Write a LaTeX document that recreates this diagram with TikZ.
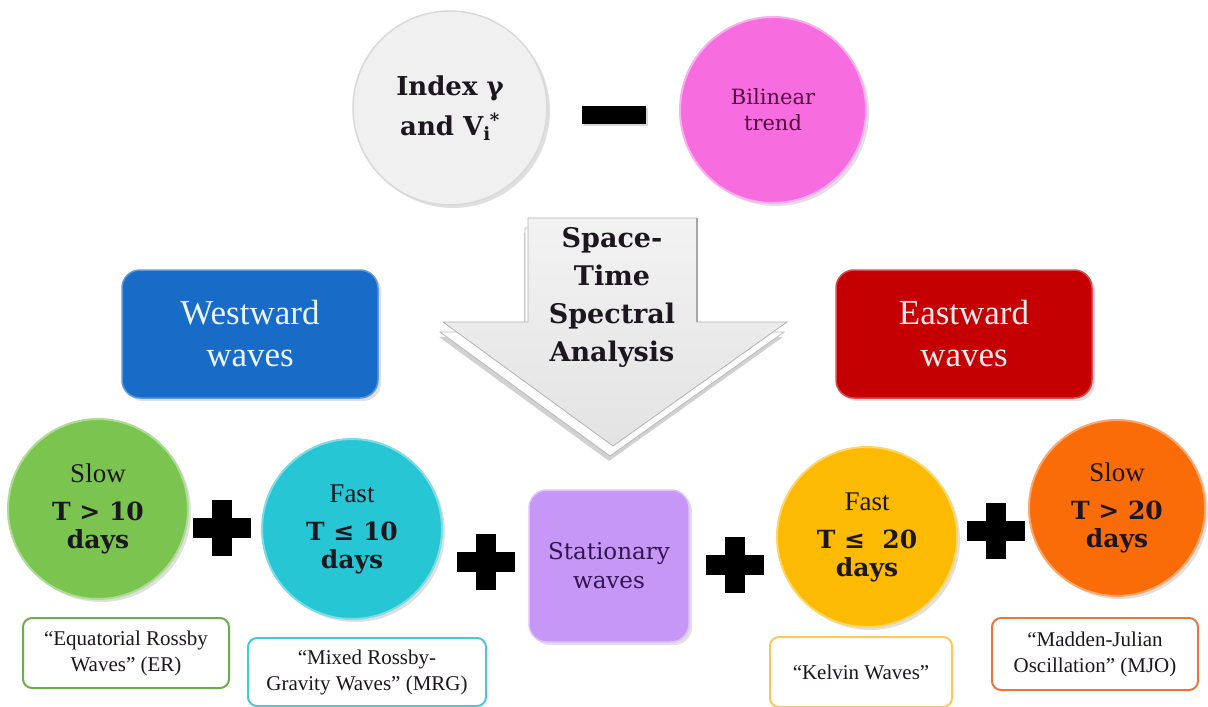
\documentclass[tikz,border=0pt]{standalone}
\usepackage{fontspec}
\setmainfont{Liberation Serif}
\newfontfamily\geo{DejaVu Serif}
\usetikzlibrary{shadows}
\definecolor{cgreen}{RGB}{122,196,79}
\definecolor{ccyan}{RGB}{38,198,212}
\definecolor{cpurple}{RGB}{199,151,248}
\definecolor{cyellow}{RGB}{252,186,3}
\definecolor{corange}{RGB}{250,108,8}
\definecolor{cblue}{RGB}{24,108,200}
\definecolor{cred}{RGB}{196,0,2}
\definecolor{cmagenta}{RGB}{247,108,222}
\definecolor{cgray}{RGB}{240,240,240}
\definecolor{lgreen}{RGB}{110,170,80}
\definecolor{lcyan}{RGB}{70,200,215}
\definecolor{lyellow}{RGB}{250,200,90}
\definecolor{lorange}{RGB}{230,120,60}
\definecolor{darktxt}{RGB}{28,22,30}
\newcommand\bigb{\geo\bfseries\fontsize{25}{28}\selectfont}
\newcommand\slowf{\normalfont\fontsize{27}{28}\selectfont}
\newcommand\labf{\fontsize{21}{26}\selectfont}
\tikzset{
  ball/.style={circle, inner sep=0pt, align=center, text=darktxt, font=\bigb,
    drop shadow={opacity=0.25, shadow xshift=3pt, shadow yshift=-3pt}},
  bigbox/.style={rounded corners=18pt, inner sep=0pt, align=center,
    drop shadow={opacity=0.25, shadow xshift=3pt, shadow yshift=-3pt}},
  labbox/.style={rounded corners=9pt, inner sep=0pt, align=center, fill=white,
    line width=2pt, text=darktxt, font=\labf},
  plusbar/.style={fill=black},
}
\begin{document}
\begin{tikzpicture}[x=1pt,y=-1pt]
\useasboundingbox (0,0) rectangle (1208,707);
\fill[white] (0,0) rectangle (1208,707);

% top row
\node[ball, fill=cgray, draw=gray!30, line width=1.5pt, minimum size=194pt,
  font=\geo\bfseries\fontsize{26}{40}\selectfont] (idx) at (450,108)
  {Index γ\\and V\textsubscript{i}\kern-1pt\textsuperscript{*}};
\node[ball, fill=cmagenta, draw=cmagenta!55!white, line width=2pt, minimum size=186pt,
  text={rgb,255:red,80;green,10;blue,60}, font=\geo\fontsize{21}{26}\selectfont] (bil) at (773,110)
  {Bilinear\\trend};
\node[fill=black, minimum width=64pt, minimum height=18pt, inner sep=0pt,
  drop shadow={opacity=0.3, shadow xshift=2pt, shadow yshift=-2pt}] (minus) at (614,115) {};

% big arrow
\coordinate (a1) at (528,218);
\coordinate (a2) at (697,218);
\coordinate (a3) at (697,322);
\coordinate (a4) at (787,322);
\coordinate (a5) at (613,446);
\coordinate (a6) at (443,322);
\coordinate (a7) at (528,322);
\fill[black, opacity=0.18] ([shift={(-4,15)}]a1) -- ([shift={(-4,15)}]a2) -- ([shift={(-4,15)}]a3) -- ([shift={(-4,15)}]a4) -- ([shift={(-4,15)}]a5) -- ([shift={(-4,15)}]a6) -- ([shift={(-4,15)}]a7) -- cycle;
\fill[white, draw=gray!55, line width=0.8pt] ([shift={(-3,10)}]a1) -- ([shift={(-3,10)}]a2) -- ([shift={(-3,10)}]a3) -- ([shift={(-3,10)}]a4) -- ([shift={(-3,10)}]a5) -- ([shift={(-3,10)}]a6) -- ([shift={(-3,10)}]a7) -- cycle;
\shade[top color=gray!10, bottom color=gray!22, draw=gray!60, line width=0.8pt]
  (a1) -- (a2) -- (a3) -- (a4) -- (a5) -- (a6) -- (a7) -- cycle;
\draw[gray!70, line width=2pt] (a2) -- (a3);
\node[align=center, text=darktxt, font=\geo\bfseries\fontsize{27}{38}\selectfont] (sta) at (612,297)
  {Space-\\Time\\Spectral\\Analysis};

% direction boxes
\node[bigbox, fill=cblue, draw=cblue!70!white, line width=1.5pt, minimum width=256pt, minimum height=128pt,
  text={rgb,255:red,235;green,245;blue,250}, font=\fontsize{35}{42}\selectfont] (west) at (250,334)
  {Westward\\waves};
\node[bigbox, fill=cred, draw=cred!70!white, line width=1.5pt, minimum width=256pt, minimum height=128pt,
  text={rgb,255:red,250;green,235;blue,235}, font=\fontsize{35}{42}\selectfont] (east) at (964,334)
  {Eastward\\waves};

% bottom row
\node[ball, fill=cgreen, draw=cgreen!60!white, line width=2pt, minimum size=180pt] (slowW) at (98,509)
  {\slowf Slow\\[10pt]T > 10\\days};
\node[ball, fill=ccyan, draw=ccyan!60!white, line width=2pt, minimum size=180pt] (fastW) at (352,529)
  {\slowf Fast\\[10pt]T ≤ 10\\days};
\node[bigbox, fill=cpurple, draw=cpurple!60!white, line width=1.5pt, minimum width=160pt, minimum height=152pt,
  text={rgb,255:red,50;green,20;blue,80}, font=\geo\fontsize{23}{29}\selectfont] (stat) at (609,566)
  {Stationary\\waves};
\node[ball, fill=cyellow, draw=cyellow!60!white, line width=2pt, minimum size=180pt] (fastE) at (867,537)
  {\slowf Fast\\[10pt]T ≤\ \ 20\\days};
\node[ball, fill=corange, draw=corange!60!white, line width=2pt, minimum size=176pt] (slowE) at (1117,508)
  {\slowf Slow\\[10pt]T > 20\\days};

% plus signs
\foreach \n/\px/\py in {p1/222/528, p2/486/562, p3/735/565, p4/996/531}{
  \coordinate (\n) at (\px,\py);
  \fill[plusbar] (\n) ++(-29,-10) rectangle ++(58,20);
  \fill[plusbar] (\n) ++(-10,-28) rectangle ++(20,56);
}

% labels
\node[labbox, draw=lgreen, minimum width=206pt, minimum height=70pt] (er) at (126,653)
  {“Equatorial Rossby\\Waves” (ER)};
\node[labbox, draw=lcyan, minimum width=238pt, minimum height=68pt] (mrg) at (367,672)
  {“Mixed Rossby-\\Gravity Waves” (MRG)};
\node[labbox, draw=lyellow, minimum width=182pt, minimum height=70pt] (kel) at (861,672)
  {“Kelvin Waves”};
\node[labbox, draw=lorange, minimum width=206pt, minimum height=72pt] (mjo) at (1095,654)
  {“Madden-Julian\\Oscillation” (MJO)};
\end{tikzpicture}
\end{document}
